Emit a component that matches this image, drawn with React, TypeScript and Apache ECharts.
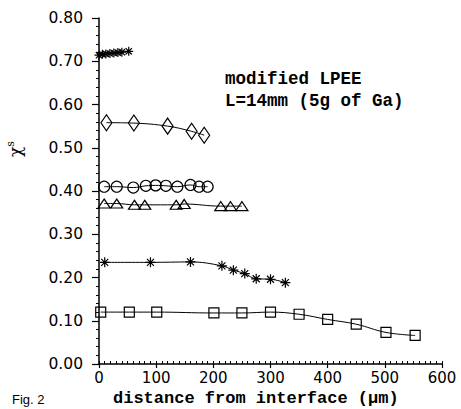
import React, { useEffect, useRef } from "react";
import * as echarts from "echarts";

const xTicks = [0, 100, 200, 300, 400, 500, 600];
const yTicks = [0, 0.1, 0.2, 0.3, 0.4, 0.5, 0.6, 0.7, 0.8];

const topStarX = [0, 6, 12, 19, 26, 33, 40, 52];
const topStarY = [0.714, 0.716, 0.717, 0.718, 0.719, 0.72, 0.721, 0.723];

const diamondX = [13, 61, 120, 162, 184];
const diamondY = [0.558, 0.557, 0.55, 0.538, 0.529];

const circleX = [9, 31, 60, 82, 99, 117, 137, 160, 175, 190];
const circleY = [0.41, 0.41, 0.408, 0.412, 0.413, 0.412, 0.41, 0.414, 0.41, 0.41];

const triangleX = [9, 31, 62, 80, 135, 149, 213, 230, 250];
const triangleY = [0.371, 0.371, 0.368, 0.368, 0.368, 0.37, 0.365, 0.365, 0.365];

const midStarX = [10, 90, 160, 215, 235, 255, 275, 300, 326];
const midStarY = [0.235, 0.235, 0.236, 0.227, 0.217, 0.209, 0.197, 0.196, 0.188];

const squareX = [3, 53, 101, 201, 250, 300, 350, 400, 450, 502, 553];
const squareY = [0.12, 0.12, 0.12, 0.118, 0.118, 0.12, 0.115, 0.103, 0.092, 0.073, 0.066];

const annotation1 = "modified LPEE";
const annotation2 = "L=14mm (5g of Ga)";
const xName = "distance from interface (\u03bcm)";
const figLabel = "Fig. 2";

const ASTERISK =
  "path://M0,-10L0,10M-10,0L10,0M-7,-7L7,7M-7,7L7,-7";

const zip = (xs: number[], ys: number[]) => xs.map((x, i) => [x, ys[i]]);

const mkSeries = (
  xs: number[],
  ys: number[],
  symbol: string,
  size: number | number[]
) => ({
  type: "line",
  data: zip(xs, ys),
  smooth: 0.4,
  symbol,
  symbolSize: size,
  showSymbol: true,
  lineStyle: { color: "#000", width: 1 },
  itemStyle: { color: "rgba(0,0,0,0)", borderColor: "#000", borderWidth: 1.2 },
  emphasis: { disabled: true },
  z: 3,
});

export default function App() {
  const ref = useRef<HTMLDivElement>(null);
  useEffect(() => {
    document.body.style.margin = "0";
    if (!ref.current) return;
    const chart = echarts.init(ref.current, null, { renderer: "svg" });
    const labelFont = "DejaVu Sans";
    chart.setOption({
      animation: false,
      backgroundColor: "#fff",
      grid: { left: 99, right: 19, top: 18, bottom: 45 },
      xAxis: [
        {
          type: "value",
          min: xTicks[0],
          max: xTicks[xTicks.length - 1],
          interval: 100,
          axisLine: { lineStyle: { color: "#000", width: 1.5 } },
          axisTick: { show: true, length: 4, lineStyle: { color: "#000", width: 1.2 } },
          axisLabel: {
            color: "#000",
            fontFamily: labelFont,
            fontSize: 15,
            margin: 6,
          },
          splitLine: { show: false },
        },
        {
          type: "value",
          position: "bottom",
          min: 0,
          max: 600,
          interval: 10,
          axisLine: { show: false },
          axisTick: { show: true, inside: true, length: 3, lineStyle: { color: "#000", width: 1 } },
          axisLabel: { show: false },
          splitLine: { show: false },
        },
      ],
      yAxis: {
        type: "value",
        min: yTicks[0],
        max: yTicks[yTicks.length - 1],
        interval: 0.1,
        axisLine: { show: true, lineStyle: { color: "#000", width: 1.5 } },
        axisTick: { show: true, length: 7, lineStyle: { color: "#000", width: 1.2 } },
        minorTick: { show: true, splitNumber: 5, length: 3, lineStyle: { color: "#000", width: 1 } },
        axisLabel: {
          color: "#000",
          fontFamily: labelFont,
          fontSize: 15.5,
          margin: 16,
          formatter: (v: number) => v.toFixed(2),
        },
        splitLine: { show: false },
      },
      series: [
        mkSeries(topStarX, topStarY, ASTERISK, 9),
        mkSeries(diamondX, diamondY, "diamond", [11, 16]),
        mkSeries(circleX, circleY, "circle", 11),
        mkSeries(triangleX, triangleY, "triangle", [12, 9]),
        mkSeries(midStarX, midStarY, ASTERISK, 10),
        mkSeries(squareX, squareY, "rect", 10),
      ],
      graphic: [
        {
          type: "text",
          x: 225,
          y: 79,
          style: {
            text: annotation1,
            fontFamily: "Liberation Mono",
            fontSize: 17.5,
            fontWeight: "bold",
            fill: "#000",
            verticalAlign: "middle",
            textAlign: "left",
          },
        },
        {
          type: "text",
          x: 225,
          y: 101,
          style: {
            text: annotation2,
            fontFamily: "Liberation Mono",
            fontSize: 17.5,
            fontWeight: "bold",
            fill: "#000",
            verticalAlign: "middle",
            textAlign: "left",
          },
        },
        {
          type: "text",
          x: 113,
          y: 398,
          style: {
            text: xName,
            fontFamily: "Liberation Mono",
            fontSize: 17,
            fontWeight: "bold",
            fill: "#000",
            verticalAlign: "middle",
            textAlign: "left",
          },
        },
        {
          type: "text",
          x: 15,
          y: 149,
          rotation: Math.PI / 2,
          style: {
            text: "{a|\u03c7}{b|s}",
            fill: "#000",
            textAlign: "center",
            verticalAlign: "middle",
            rich: {
              a: { fontFamily: "DejaVu Serif", fontSize: 17, fill: "#000" },
              b: { fontFamily: "DejaVu Serif", fontSize: 11, fill: "#000", verticalAlign: "top", padding: [0, 0, 9, 0] },
            },
          },
        },
        {
          type: "text",
          x: 12,
          y: 393,
          style: {
            text: figLabel,
            fontFamily: "Liberation Sans",
            fontSize: 13,
            fill: "#000",
            verticalAlign: "top",
            textAlign: "left",
          },
        },
      ],
    });
    return () => chart.dispose();
  }, []);
  return <div ref={ref} style={{ width: 461, height: 409 }} />;
}
